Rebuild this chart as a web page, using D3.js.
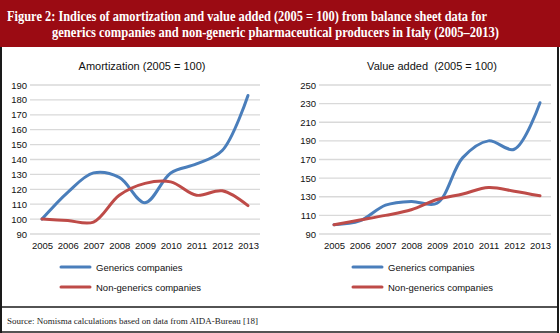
<!DOCTYPE html>
<html><head><meta charset="utf-8">
<script src="https://cdn.jsdelivr.net/npm/d3@7"></script>
<style>body{margin:0;background:#fff}svg{display:block}</style>
</head><body>
<script>
const years = ["2005","2006","2007","2008","2009","2010","2011","2012","2013"];
const amortGenerics = [100,118,131,128,111,131,137,146,183];
const amortNonGenerics = [100,99,98,116,124,125,116,119,109];
const vaGenerics = [100,104,121,125,123,172,190,181,231];
const vaNonGenerics = [100,105,110,116,127,133,140,136,131];
const amortTicks = [90,100,110,120,130,140,150,160,170,180,190];
const vaTicks = [90,110,130,150,170,190,210,230,250];
const seriesNames = ["Generics companies","Non-generics companies"];
const colors = ["#4a7ebb","#be4b48"];

const W=560,H=333;
const svg=d3.select("body").append("svg").attr("width",W).attr("height",H);
svg.append("rect").attr("x",0).attr("y",0).attr("width",W).attr("height",H).attr("fill","#fff");
// header
svg.append("rect").attr("x",0).attr("y",0).attr("width",W).attr("height",47).attr("fill","#9b0b13");
svg.append("text").attr("x",7).attr("y",21).attr("fill","#fff")
  .attr("font-family","Liberation Serif, serif").attr("font-weight","bold").attr("font-size",14)
  .attr("textLength",480).attr("lengthAdjust","spacingAndGlyphs")
  .text("Figure 2: Indices of amortization and value added (2005 = 100) from balance sheet data for");
svg.append("text").attr("x",52).attr("y",37).attr("fill","#fff")
  .attr("font-family","Liberation Serif, serif").attr("font-weight","bold").attr("font-size",14)
  .attr("textLength",447).attr("lengthAdjust","spacingAndGlyphs")
  .text("generics companies and non-generic pharmaceutical producers in Italy (2005\u20132013)");
// borders
const bc="#1a1a1a";
svg.append("line").attr("x1",1).attr("x2",1).attr("y1",47).attr("y2",333).attr("stroke",bc).attr("stroke-width",2);
svg.append("line").attr("x1",558).attr("x2",558).attr("y1",47).attr("y2",333).attr("stroke",bc).attr("stroke-width",2);
svg.append("line").attr("x1",0).attr("x2",559).attr("y1",307).attr("y2",307).attr("stroke",bc).attr("stroke-width",1.5);
svg.append("line").attr("x1",0).attr("x2",559).attr("y1",332).attr("y2",332).attr("stroke",bc).attr("stroke-width",1.5);
svg.append("text").attr("x",7).attr("y",324).attr("fill","#222")
  .attr("font-family","Liberation Serif, serif").attr("font-size",9)
  .attr("textLength",251).attr("lengthAdjust","spacingAndGlyphs")
  .text("Source: Nomisma calculations based on data from AIDA-Bureau [18]");

function panel(opt){
  const g=svg.append("g");
  const x=d3.scalePoint().domain(years).range([opt.x0,opt.x1]);
  const y=d3.scaleLinear().domain(opt.domain).range([234,85]);
  g.selectAll(".grid").data(opt.ticks).enter().append("line")
    .attr("x1",opt.g0).attr("x2",opt.g1).attr("y1",d=>y(d)).attr("y2",d=>y(d))
    .attr("stroke","#d9d9d9").attr("stroke-width",1.3);
  const ya=d3.axisLeft(y).tickValues(opt.ticks).tickSize(0).tickPadding(0);
  const yg=g.append("g").attr("transform",`translate(${opt.g0-3},0)`).call(ya);
  yg.select(".domain").remove();
  yg.selectAll("text").attr("font-family","Liberation Sans, Arial, sans-serif").attr("font-size",9.5).attr("fill","#111");
  const xa=d3.axisBottom(x).tickSize(0).tickPadding(0);
  const xg=g.append("g").attr("transform","translate(0,242)").call(xa);
  xg.select(".domain").remove();
  xg.selectAll("text").attr("font-family","Liberation Sans, Arial, sans-serif").attr("font-size",9.5).attr("fill","#111");
  g.append("text").attr("x",opt.tx).attr("y",70).attr("text-anchor","middle")
    .attr("font-family","Liberation Sans, Arial, sans-serif").attr("font-size",11).attr("fill","#111")
    .attr("xml:space","preserve").text(opt.title);
  const line=d3.line().x((d,i)=>x(years[i])).y(d=>y(d)).curve(d3.curveCatmullRom.alpha(0.5));
  opt.series.forEach((s,i)=>{
    g.append("path").attr("d",line(s)).attr("fill","none").attr("stroke",colors[i])
      .attr("stroke-width",3).attr("stroke-linecap","round").attr("stroke-linejoin","round");
  });
  seriesNames.forEach((n,i)=>{
    const ly=267+i*20;
    g.append("line").attr("x1",opt.lx).attr("x2",opt.lx+29).attr("y1",ly).attr("y2",ly)
      .attr("stroke",colors[i]).attr("stroke-width",3).attr("stroke-linecap","round");
    g.append("text").attr("x",opt.lx+35).attr("y",ly+3.5)
      .attr("font-family","Liberation Sans, Arial, sans-serif").attr("font-size",9.5).attr("fill","#111").text(n);
  });
}
panel({x0:42,x1:248,g0:30,g1:260,domain:[90,190],ticks:amortTicks,title:"Amortization (2005 = 100)",tx:142,
  series:[amortGenerics,amortNonGenerics],lx:61});
panel({x0:334,x1:540,g0:319,g1:551,domain:[90,250],ticks:vaTicks,title:"Value added  (2005 = 100)",tx:432,
  series:[vaGenerics,vaNonGenerics],lx:353});
</script>
</body></html>
